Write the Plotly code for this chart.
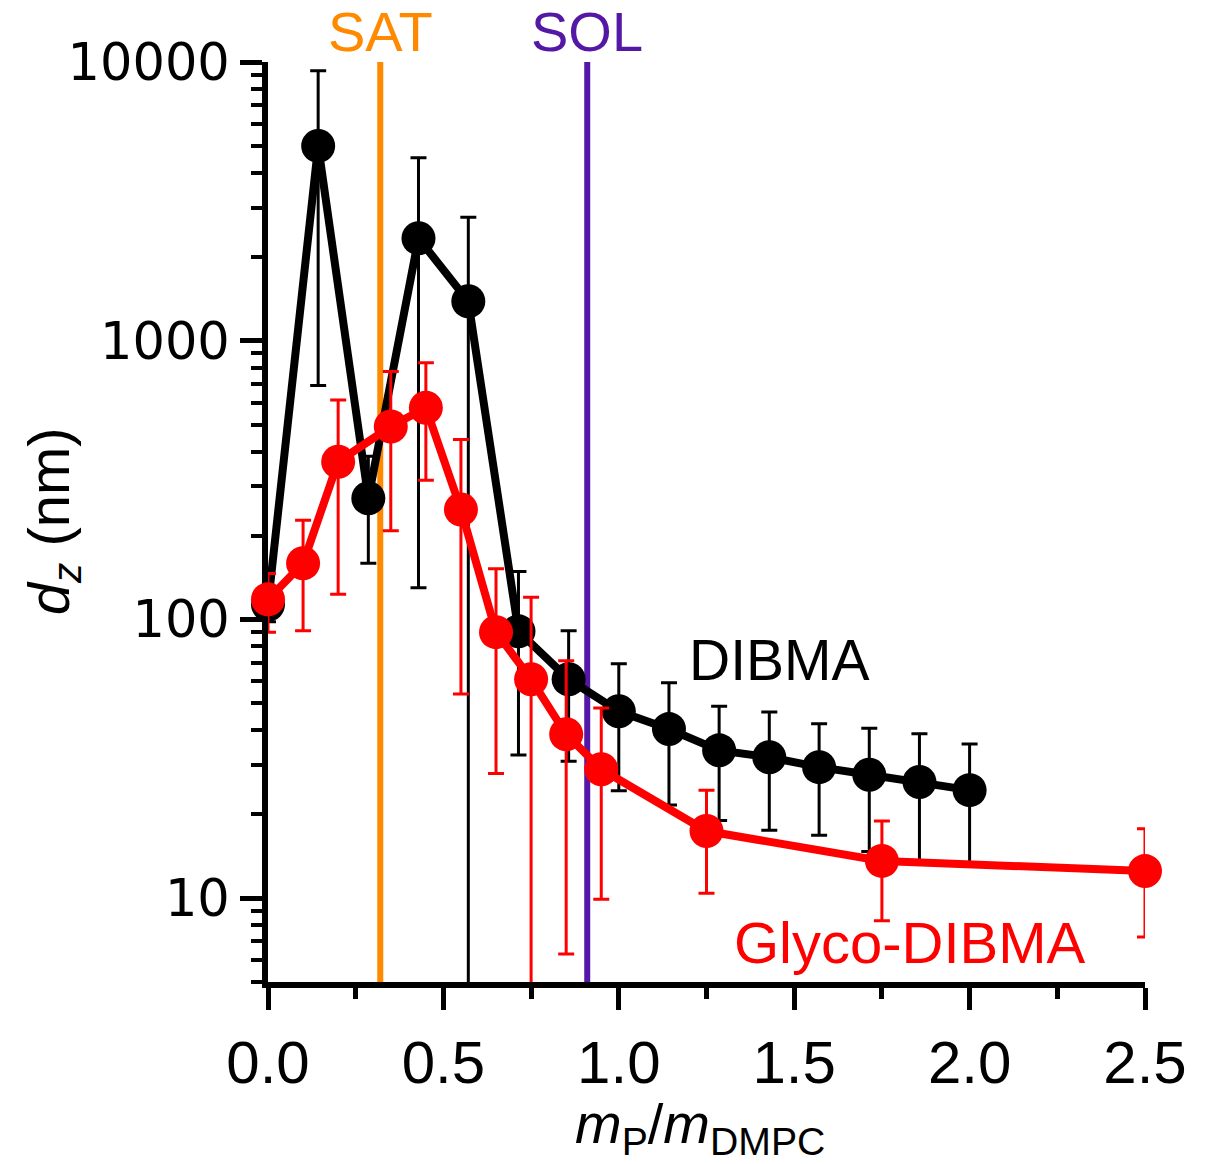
import plotly.graph_objects as go

# DIBMA: z-average diameter vs polymer/lipid mass ratio
dibma_x = [0, 0.143, 0.286, 0.429, 0.571, 0.714, 0.857, 1.0, 1.143, 1.286,
           1.429, 1.571, 1.714, 1.857, 2.0]
dibma_d = [113, 5000, 272, 2330, 1385, 90.6, 61, 46.8, 40.4, 33.9,
           32, 29.5, 27.7, 26.1, 24.4]
dibma_sd = [15, 4310, 113, 2200, 1390, 58, 30, 22.5, 18.8, 14.9,
            14.5, 12.7, 13, 12.8, 11.3]

# Glyco-DIBMA
glyco_x = [0, 0.1, 0.2, 0.35, 0.45, 0.55, 0.65, 0.75, 0.85, 0.95, 1.25, 1.75, 2.5]
glyco_d = [118, 159, 368, 492, 575, 248, 90, 61, 38.7, 29.0, 17.4, 13.6, 12.5]
glyco_sd = [28, 68, 245, 284, 259, 194, 62, 59, 32.4, 19.1, 7, 5.3, 5.25]

# saturation and solubilisation boundaries
SAT_X = 0.32
SOL_X = 0.91

y_tickvals = [10, 100, 1000, 10000]
y_ticktext = ["10", "100", "1000", "10000"]
x_tickvals = [0.0, 0.5, 1.0, 1.5, 2.0, 2.5]
x_ticktext = ["0.0", "0.5", "1.0", "1.5", "2.0", "2.5"]

BLACK = "#000000"
RED = "#FF0000"
ORANGE = "#FF8A00"
PURPLE = "#5518A6"
FONT = "Liberation Sans, Arial, sans-serif"

fig = go.Figure()


def add_series(x, y, sd, color, name):
    # error bars, clipped to the plotting area
    fig.add_trace(go.Scatter(
        x=x, y=y, mode="markers", name=name + " sd", showlegend=False,
        marker=dict(size=1, color="rgba(0,0,0,0)"),
        error_y=dict(type="data", array=sd, visible=True, color=color,
                     thickness=3, width=8),
        cliponaxis=True, hoverinfo="skip",
    ))
    # connecting line and markers
    fig.add_trace(go.Scatter(
        x=x, y=y, mode="lines+markers", name=name, showlegend=False,
        line=dict(color=color, width=8),
        marker=dict(size=34, color=color, line=dict(width=0)),
        cliponaxis=False,
    ))


add_series(dibma_x, dibma_d, dibma_sd, BLACK, "DIBMA")
add_series(glyco_x, glyco_d, glyco_sd, RED, "Glyco-DIBMA")

for xv, col in [(SAT_X, ORANGE), (SOL_X, PURPLE)]:
    fig.add_shape(type="line", xref="x", yref="paper", x0=xv, x1=xv, y0=0, y1=1,
                  line=dict(color=col, width=6), layer="below")

annotations = [
    dict(text="SAT", x=SAT_X, xref="x", y=1.0335, yref="paper",
         font=dict(family=FONT, size=56, color=ORANGE)),
    dict(text="SOL", x=SOL_X, xref="x", y=1.0335, yref="paper",
         font=dict(family=FONT, size=56, color=PURPLE)),
    dict(text="DIBMA", x=0.5838, xref="paper", y=0.35, yref="paper",
         font=dict(family=FONT, size=57, color=BLACK)),
    dict(text="Glyco-DIBMA", x=0.732, xref="paper", y=0.0424, yref="paper",
         font=dict(family=FONT, size=58, color=RED)),
    dict(text="<i>m</i><sub>P</sub>/<i>m</i><sub>DMPC</sub>", x=0.4926, xref="paper",
         y=-0.158, yref="paper", font=dict(family=FONT, size=56, color=BLACK)),
    dict(text="<i>d</i><sub><i>z</i></sub> (nm)", x=-0.245, xref="paper",
         y=0.501, yref="paper", textangle=-90,
         font=dict(family=FONT, size=58, color=BLACK)),
]
for a in annotations:
    a.update(showarrow=False, xanchor="center", yanchor="middle")
    fig.add_annotation(**a)

fig.update_layout(
    width=1213, height=1164, autosize=False,
    margin=dict(l=268, r=68, t=62, b=182, pad=0),
    paper_bgcolor="white", plot_bgcolor="white",
    showlegend=False,
)

fig.update_xaxes(
    range=[0, 2.5], showgrid=False, zeroline=False,
    showline=True, linecolor=BLACK, linewidth=6,
    ticks="outside", ticklen=22, tickwidth=5, tickcolor=BLACK,
    tickvals=x_tickvals, ticktext=x_ticktext,
    tickfont=dict(family=FONT, size=60, color=BLACK),
    ticklabelstandoff=1,
    minor=dict(ticks="outside", ticklen=11, tickwidth=5, tickcolor=BLACK, dtick=0.25),
    layer="below traces",
)

fig.update_yaxes(
    type="log", range=[0.69897, 4], showgrid=False, zeroline=False,
    showline=True, linecolor=BLACK, linewidth=6,
    ticks="outside", ticklen=22, tickwidth=5, tickcolor=BLACK,
    tickvals=y_tickvals, ticktext=y_ticktext,
    tickfont=dict(family="DejaVu Sans", size=51, color=BLACK),
    minor=dict(ticks="outside", ticklen=11, tickwidth=4, tickcolor=BLACK, dtick="D1"),
    layer="below traces",
)

fig.write_html("out.html")
